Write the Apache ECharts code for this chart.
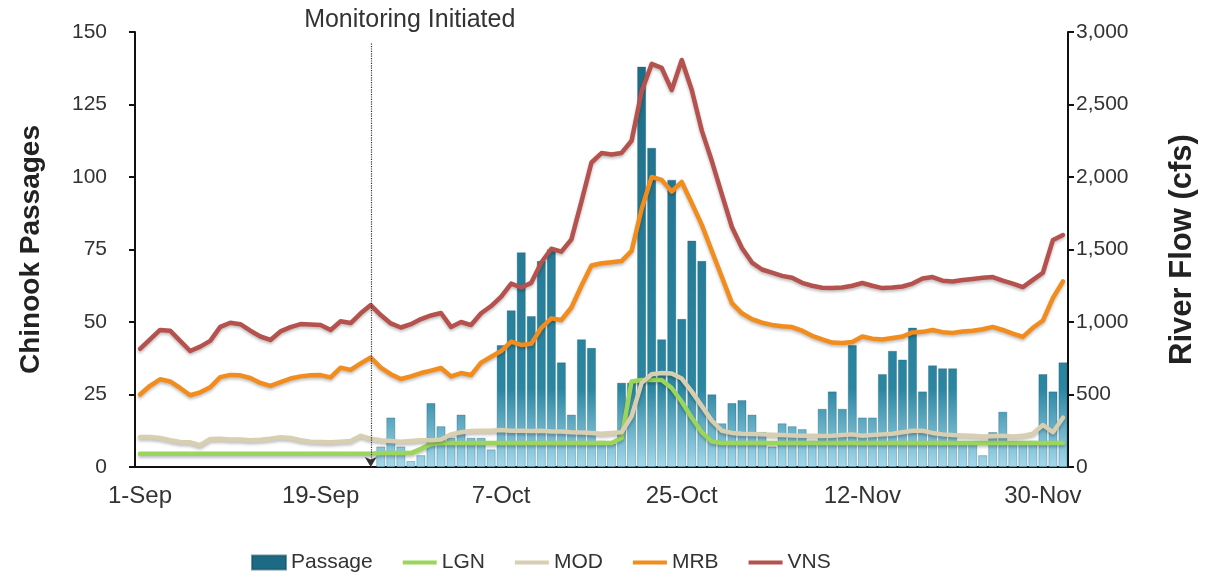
<!DOCTYPE html>
<html>
<head>
<meta charset="utf-8">
<title>Chinook Passages and River Flow</title>
<script src="https://cdn.jsdelivr.net/npm/echarts@6/dist/echarts.min.js"></script>
<style>
  html, body { margin: 0; padding: 0; background: #fff; }
  #chart { width: 1209px; height: 579px; }
</style>
</head>
<body>
<div id="chart"></div>
<script>
// days shown on the axis: 1-Sep .. 2-Dec
var months = [['Sep', 30], ['Oct', 31], ['Nov', 30], ['Dec', 2]];
var days = [];
months.forEach(function (m) {
  for (var d = 1; d <= m[1]; d++) days.push(d + '-' + m[0]);
});

var passageTicks = [0, 25, 50, 75, 100, 125, 150];
var flowTicks = [0, 500, 1000, 1500, 2000, 2500, 3000];
var monitoringDay = '24-Sep';

// daily chinook passages (counting starts 25-Sep)
var passage = [
  null, null, null, null, null, null, null, null, null, null,
  null, null, null, null, null, null, null, null, null, null,
  null, null, null, null,
  7, 17, 7, 2, 4, 22, 14, 10, 18, 10,
  10, 6, 42, 54, 74, 52, 71, 75, 36, 18,
  44, 41, 9, 8, 29, 29, 138, 110, 44, 99,
  51, 78, 71, 25, 15, 22, 23, 18, 12, 7,
  15, 14, 13, 9, 20, 26, 20, 42, 17, 17,
  32, 40, 37, 48, 26, 35, 34, 34, 8, 8,
  4, 12, 19, 8, 8, 9, 32, 26, 36
];

// river flow (cfs) by gauge
var lgn = [
  92, 92, 92, 92, 92, 92, 92, 92, 92, 92,
  92, 92, 92, 92, 92, 92, 92, 92, 92, 92,
  92, 92, 92, 92, 96, 96, 96, 96, 125, 158,
  165, 165, 165, 165, 165, 165, 165, 165, 165, 165,
  165, 165, 165, 165, 165, 165, 165, 165, 200, 590,
  600, 600, 600, 545, 450, 340, 240, 175, 165, 165,
  165, 165, 165, 165, 165, 165, 165, 165, 165, 165,
  165, 165, 165, 165, 165, 165, 165, 165, 165, 165,
  165, 165, 165, 165, 165, 165, 165, 165, 165, 165,
  165, 165, 165
];

var mod = [
  207, 207, 200, 185, 172, 170, 150, 193, 195, 190,
  190, 185, 188, 195, 205, 200, 185, 175, 172, 170,
  175, 180, 215, 195, 185, 180, 175, 180, 185, 185,
  190, 225, 240, 248, 250, 250, 255, 250, 250, 248,
  250, 245, 245, 240, 238, 235, 230, 235, 240, 350,
  580, 640, 648, 645, 610, 520, 420, 320, 250, 235,
  230, 228, 225, 222, 220, 218, 215, 215, 213, 215,
  220, 225, 215, 220, 225, 230, 240, 250, 250, 235,
  225, 220, 218, 215, 210, 212, 215, 210, 215, 230,
  290, 240, 340
];

var mrb = [
  500, 560, 605, 590, 545, 495, 515, 550, 620, 635,
  632, 614, 580, 560, 585, 610, 625, 632, 634, 618,
  685, 670, 715, 755, 685, 640, 607, 625, 648, 665,
  683, 625, 648, 634, 720, 760, 800, 865, 842, 850,
  960, 1025, 1014, 1100, 1250, 1390, 1405, 1412, 1420, 1490,
  1780, 2000, 1980, 1900, 1966, 1820, 1670, 1490, 1310, 1130,
  1060, 1020, 995, 980, 970, 965, 940, 905, 880, 858,
  855, 862, 900, 885, 880, 890, 900, 928, 932, 945,
  930, 925, 935, 940, 950, 966, 945, 920, 897, 960,
  1010, 1166, 1280
];

var vns = [
  815, 880, 945, 940, 870, 800, 830, 870, 966, 995,
  985, 940, 900, 876, 935, 965, 986, 983, 979, 945,
  1005, 993, 1060, 1117, 1048, 990, 962, 985, 1020, 1045,
  1062, 966, 1000, 979, 1060, 1110, 1175, 1265, 1238, 1270,
  1410, 1505, 1485, 1570, 1830, 2100, 2165, 2155, 2166, 2250,
  2590, 2780, 2752, 2600, 2807, 2600, 2320, 2110, 1880, 1655,
  1510, 1410, 1362, 1340, 1318, 1305, 1270, 1250, 1236, 1234,
  1238, 1250, 1269, 1250, 1234, 1238, 1245, 1265, 1300, 1310,
  1285, 1280, 1290, 1297, 1305, 1310, 1285, 1265, 1241, 1290,
  1340, 1566, 1600
];

var font = 'Liberation Sans, Arial, Helvetica, sans-serif';
// thin bar inside a 34x14 box, used as legend key for the flow lines
var lineKey = 'path://M0,0 M0,5 L34,5 L34,9 L0,9 Z M34,14';

function flowLine(name, data, color) {
  return {
    name: name,
    type: 'line',
    yAxisIndex: 1,
    data: data,
    symbol: 'none',
    lineStyle: {
      color: color,
      width: 4.5,
      cap: 'round',
      join: 'round',
      shadowColor: 'rgba(0,0,0,0.25)',
      shadowBlur: 3,
      shadowOffsetY: 2
    },
    itemStyle: { color: color }
  };
}

var chart = echarts.init(document.getElementById('chart'));
chart.setOption({
  animation: false,
  textStyle: { fontFamily: font },
  grid: { left: 135, right: 141, top: 32, bottom: 112 },
  legend: {
    left: 246,
    bottom: 1,
    itemWidth: 34,
    itemHeight: 14,
    itemGap: 30,
    textStyle: { fontSize: 21, color: '#333', fontFamily: font },
    data: [
      { name: 'Passage', icon: 'rect' },
      { name: 'LGN', icon: lineKey },
      { name: 'MOD', icon: lineKey },
      { name: 'MRB', icon: lineKey },
      { name: 'VNS', icon: lineKey }
    ]
  },
  xAxis: {
    type: 'category',
    data: days,
    boundaryGap: true,
    axisLine: { lineStyle: { color: '#111', width: 2 } },
    axisTick: { interval: 17, length: 6, lineStyle: { color: '#111', width: 2 } },
    axisLabel: { interval: 17, fontSize: 24, color: '#333', margin: 17 }
  },
  yAxis: [
    {
      type: 'value',
      min: passageTicks[0],
      max: passageTicks[passageTicks.length - 1],
      interval: 25,
      name: 'Chinook Passages',
      nameLocation: 'middle',
      nameGap: 90,
      nameTextStyle: { fontSize: 28, fontWeight: 'bold', color: '#222' },
      axisLine: { show: true, lineStyle: { color: '#111', width: 2 } },
      axisTick: { show: true, length: 6, lineStyle: { color: '#111', width: 2 } },
      axisLabel: { fontSize: 21, color: '#333', margin: 28 },
      splitLine: { show: false }
    },
    {
      type: 'value',
      min: flowTicks[0],
      max: flowTicks[flowTicks.length - 1],
      interval: 500,
      name: 'River Flow (cfs)',
      nameLocation: 'middle',
      nameRotate: 90,
      nameGap: 99,
      nameTextStyle: { fontSize: 31, fontWeight: 'bold', color: '#222' },
      axisLine: { show: true, lineStyle: { color: '#111', width: 2 } },
      axisTick: { show: true, length: 6, lineStyle: { color: '#111', width: 2 } },
      axisLabel: {
        fontSize: 21, color: '#333', margin: 8,
        formatter: function (v) { return v.toLocaleString('en-US'); }
      },
      splitLine: { show: false }
    }
  ],
  series: [
    {
      name: 'Passage',
      type: 'bar',
      yAxisIndex: 0,
      data: passage,
      barCategoryGap: '14%',
      itemStyle: {
        color: {
          type: 'linear', x: 0, y: 32, x2: 0, y2: 467, global: true,
          colorStops: [
            { offset: 0, color: '#1d6a84' },
            { offset: 0.82, color: '#2b86a2' },
            { offset: 1, color: '#a4d9ec' }
          ]
        },
        borderColor: 'rgba(20,80,100,0.6)',
        borderWidth: 0.5
      },
      markLine: {
        silent: true,
        symbol: ['none', 'arrow'],
        symbolSize: [9, 10],
        lineStyle: { color: '#333', type: 'dotted', width: 1.2 },
        label: {
          show: true,
          position: 'start',
          formatter: 'Monitoring Initiated',
          fontSize: 25,
          color: '#333',
          distance: 11,
          offset: [39, 0]
        },
        data: [[
          { xAxis: monitoringDay, yAxis: 146 },
          { xAxis: monitoringDay, yAxis: 0 }
        ]]
      }
    },
    flowLine('LGN', lgn, '#9bd65c'),
    flowLine('MOD', mod, '#d8cfb1'),
    flowLine('MRB', mrb, '#f28c1c'),
    flowLine('VNS', vns, '#b5524d')
  ]
});
</script>
</body>
</html>
